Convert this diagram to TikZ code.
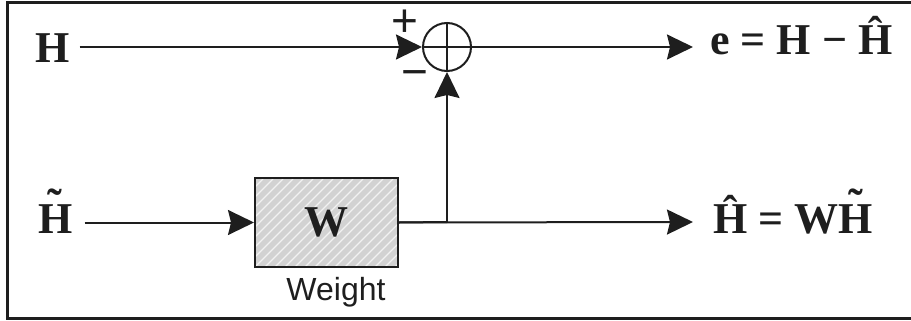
\documentclass[tikz,border=0pt]{standalone}
\usepackage{fontspec}
\setmainfont{Liberation Serif}
\setsansfont{Liberation Sans}
\usetikzlibrary{arrows.meta,calc}
\definecolor{ink}{HTML}{1E1E1E}
\definecolor{boxfill}{HTML}{D2D2D2}
\newcommand\myTH{\ooalign{H\cr\hidewidth\raisebox{0.3em}{\char"02DC}\hidewidth\cr}}
\newcommand\myHH{\char"0124}
\tikzset{
  wire/.style={draw=ink,line width=2pt},
  arr/.style={wire,-{Stealth[length=26pt,width=25pt,inset=3pt]}},
  lbl/.style={font=\fontsize{44}{48}\selectfont\bfseries,text=ink,inner sep=0pt},
  sgn/.style={font=\sffamily\fontsize{46}{48}\selectfont,text=ink,inner sep=0pt},
  weightbox/.style={draw=ink,line width=2pt,minimum width=143pt,minimum height=89pt,inner sep=0pt}
}
\begin{document}
\begin{tikzpicture}[x=1pt,y=-1pt]
\useasboundingbox (0,0) rectangle (911,321);
% frame
\draw[ink,line width=3pt] (925,3) -- (7,3) -- (7,318) -- (925,318);
% inputs
\node[lbl,anchor=base west] (hin) at (35,63) {H};
\node[lbl,anchor=base west] (htin) at (38,233) {\myTH};
% summation
\node[draw=ink,line width=2pt,circle,minimum size=48pt,inner sep=0pt] (sum) at (447,47) {};
\draw[wire] (sum.north) -- (sum.south);
\draw[wire] (sum.west) -- (sum.east);
\node[sgn] (plus) at (405,23) {+};
\node[sgn] (minus) at (415,79) {\char"2212};
% weight box
\node[weightbox] (wbox) at (326.5,222.5) {};
\begin{scope}
\clip (wbox.south west) rectangle (wbox.north east);
\fill[boxfill] (wbox.south west) rectangle (wbox.north east);
\foreach \i in {0,10,...,240}{
  \draw[white!90!gray,line width=1.2pt] ($(wbox.south west)+(\i-90,0)$) -- ++(89,-89);
}
\end{scope}
\node[weightbox] (wbox2) at (326.5,222.5) {};
\node[lbl] (wlbl) at (wbox.center) {W};
\node[font=\sffamily\fontsize{32}{34}\selectfont,text=ink,anchor=north,inner sep=0pt] (weight) at (336,277) {Weight};
% outputs
\node[lbl,anchor=base west] (eout) at (710,55) {e = H \char"2212\ \myHH};
\node[lbl,anchor=base west] (hout) at (713,233) {\myHH\ = W\myTH};
\coordinate (tipe) at (693,47);
\coordinate (tiph) at (693,222);
\coordinate (junc) at (447,222);
% connectors
\draw[arr] (hin.east |- sum.west) ++(10,0) -- (sum.west);
\draw[arr] (htin.east |- wbox.west) ++(12,0) -- (wbox.west);
\draw[arr] (sum.east) -- (tipe);
\draw[wire] (wbox.east) -- (junc);
\draw[arr] (wbox.east) -- (tiph);
\draw[arr] (junc) -- (sum.south);
\end{tikzpicture}
\end{document}
